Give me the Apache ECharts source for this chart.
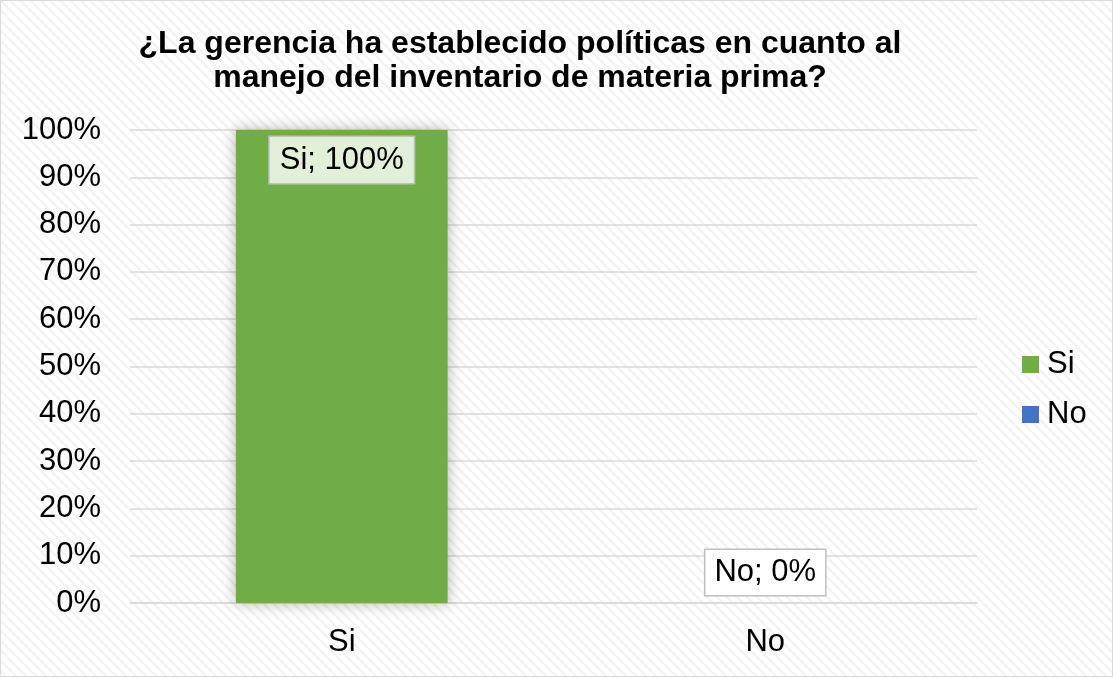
<!DOCTYPE html>
<html>
<head>
<meta charset="utf-8">
<script src="https://cdn.jsdelivr.net/npm/echarts@6/dist/echarts.min.js"></script>
<style>
html,body{margin:0;padding:0;background:#fff;}
#c{width:1113px;height:677px;box-sizing:border-box;border:1px solid #d9d9d9;}
</style>
</head>
<body>
<div id="c"></div>
<script>
var titleText = '¿La gerencia ha establecido políticas en cuanto al\nmanejo del inventario de materia prima?';
var categories = ['Si', 'No'];
var seriesNames = ['Si', 'No'];
var siValues = [100, '-'];
var noValues = ['-', 0];
var yTicks = [0, 10, 20, 30, 40, 50, 60, 70, 80, 90, 100];

var pat = document.createElement('canvas');
pat.width = 10; pat.height = 10;
var ctx = pat.getContext('2d');
ctx.fillStyle = '#ffffff';
ctx.fillRect(0, 0, 10, 10);
ctx.strokeStyle = '#f3f3f3';
ctx.lineWidth = 2.5;
ctx.beginPath();
ctx.moveTo(-5, -5); ctx.lineTo(15, 15);
ctx.moveTo(-5, 5); ctx.lineTo(5, 15);
ctx.moveTo(5, -5); ctx.lineTo(15, 5);
ctx.stroke();

var chart = echarts.init(document.getElementById('c'), null, {renderer: 'canvas'});
var font = 'Liberation Sans, Arial, sans-serif';
chart.setOption({
  backgroundColor: {image: pat, repeat: 'repeat'},
  animation: false,
  title: {
    text: titleText,
    left: 514,
    top: 21,
    textAlign: 'center',
    textStyle: {fontFamily: font, fontSize: 32, fontWeight: 'bold', color: '#000', lineHeight: 34}
  },
  legend: {
    orient: 'vertical',
    left: 1016,
    top: 343,
    itemWidth: 17,
    itemHeight: 17,
    itemGap: 19,
    icon: 'rect',
    data: seriesNames,
    textStyle: {fontFamily: font, fontSize: 31, color: '#000', padding: [0, 0, 0, 3]}
  },
  grid: {left: 129, right: 135, top: 129, bottom: 73, containLabel: false},
  xAxis: {
    type: 'category',
    data: categories,
    axisTick: {show: false},
    axisLine: {lineStyle: {color: '#d9d9d9', width: 1.5}},
    axisLabel: {fontFamily: font, fontSize: 31, color: '#000', margin: 24}
  },
  yAxis: {
    type: 'value',
    min: yTicks[0],
    max: yTicks[yTicks.length - 1],
    interval: 10,
    axisLine: {show: false},
    axisTick: {show: false},
    splitLine: {lineStyle: {color: '#d9d9d9', width: 1.5}},
    axisLabel: {fontFamily: font, fontSize: 31, color: '#000', margin: 29, formatter: '{value}%'}
  },
  series: [
    {
      name: seriesNames[0],
      type: 'bar',
      stack: 'a',
      barWidth: '50%',
      data: siValues,
      itemStyle: {color: '#70ad47', shadowBlur: 14, shadowColor: 'rgba(0,0,0,0.3)'},
      label: {
        show: true,
        position: 'insideTop',
        distance: 7,
        formatter: function (p) { return p.seriesName + '; ' + p.value + '%'; },
        fontFamily: font, fontSize: 31, color: '#000',
        backgroundColor: '#e2efd9', borderColor: '#bfbfbf', borderWidth: 1.5,
        padding: [8, 10, 7, 10]
      }
    },
    {
      name: seriesNames[1],
      type: 'bar',
      stack: 'a',
      barWidth: '50%',
      data: noValues,
      itemStyle: {color: '#4472c4'},
      label: {
        show: true,
        position: 'top',
        distance: 8,
        formatter: function (p) { return p.seriesName + '; ' + p.value + '%'; },
        fontFamily: font, fontSize: 31, color: '#000',
        backgroundColor: '#ffffff', borderColor: '#bfbfbf', borderWidth: 1.5,
        padding: [7, 9, 7, 9]
      }
    }
  ]
});
</script>
</body>
</html>
